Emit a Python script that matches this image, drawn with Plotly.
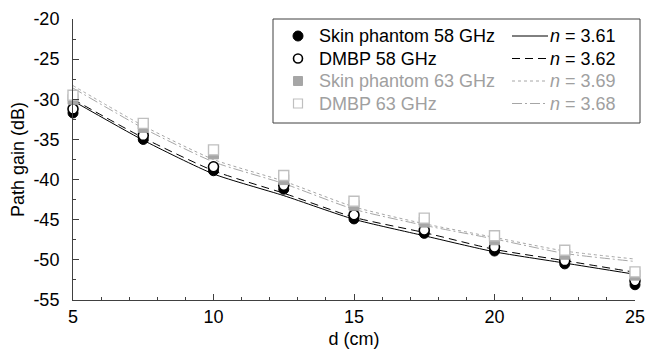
import plotly.graph_objects as go

# ---- data ----
d_cm = [5, 7.5, 10, 12.5, 15, 17.5, 20, 22.5, 25]
skin58 = [-31.7, -35.0, -38.9, -41.2, -44.9, -46.7, -48.9, -50.5, -53.1]
dmbp58 = [-31.2, -34.5, -38.4, -40.7, -44.4, -46.3, -48.4, -50.1, -52.6]
skin63 = [-30.0, -33.5, -36.8, -40.0, -43.2, -45.3, -47.5, -49.3, -51.9]
dmbp63 = [-29.5, -33.0, -36.3, -39.5, -42.7, -44.8, -47.0, -48.8, -51.5]

fit_skin58 = [-30.2, -35.1, -39.3, -42.0, -44.95, -47.0, -49.0, -50.4, -51.8]
fit_dmbp58 = [-30.0, -34.8, -38.9, -41.7, -44.7, -46.6, -48.7, -50.1, -51.55]
fit_skin63 = [-28.3, -33.3, -37.5, -40.2, -43.4, -45.5, -47.2, -48.9, -49.9]
fit_dmbp63 = [-28.6, -33.6, -37.8, -40.5, -43.7, -45.7, -47.4, -49.2, -50.2]

x_ticks = [5, 10, 15, 20, 25]
y_ticks = [-55, -50, -45, -40, -35, -30, -25, -20]
y_ticklabels = ["-55", "-50", "-45", "-40", "-35", "-30", "-25", "-20"]

legend_names = ["Skin phantom 58 GHz", "DMBP 58 GHz", "Skin phantom 63 GHz", "DMBP 63 GHz"]
n_values = ["3.61", "3.62", "3.69", "3.68"]

BLACK = "#000000"
GRAY_FILL = "#a6a6a6"
GRAY_EDGE = "#bfbfbf"
GRAY_LINE = "#a6a6a6"
GRAY_TEXT = "#a0a0a0"
FONT = "Liberation Sans, Arial, sans-serif"
FS = 18

fig = go.Figure()

# fitted lines
line_specs = [
    (fit_skin58, BLACK, "solid"),
    (fit_dmbp58, BLACK, "8px,5px"),
    (fit_skin63, GRAY_LINE, "dot"),
    (fit_dmbp63, GRAY_LINE, "10px,3px,2px,3px"),
]
for ys, col, dash in line_specs:
    fig.add_trace(go.Scatter(x=d_cm, y=ys, mode="lines", showlegend=False,
                             line=dict(color=col, width=1, dash=dash, shape="spline", smoothing=0.6),
                             hoverinfo="skip"))

# measured points
marker_specs = [
    (skin58, dict(symbol="circle", size=10, color=BLACK, line=dict(color=BLACK, width=1))),
    (dmbp58, dict(symbol="circle", size=10, color="white", line=dict(color=BLACK, width=1.6))),
    (skin63, dict(symbol="square", size=10, color=GRAY_FILL, line=dict(color=GRAY_FILL, width=1))),
    (dmbp63, dict(symbol="square", size=10, color="white", line=dict(color=GRAY_EDGE, width=1.4))),
]
for (ys, mk), name in zip(marker_specs, legend_names):
    fig.add_trace(go.Scatter(x=d_cm, y=ys, mode="markers", name=name, showlegend=False,
                             marker=mk, cliponaxis=False))

# ---- manual legend (paper coordinates) ----
L, R, T, B = 73.0, 635.0, 19.0, 300.0
def px(x):
    return (x - L) / (R - L)
def py(y):
    return (B - y) / (B - T)

shapes = []
annotations = []
shapes.append(dict(type="rect", xref="paper", yref="paper",
                   x0=px(273), x1=px(640), y0=py(123), y1=py(19),
                   line=dict(color="#404040", width=1), fillcolor="white", layer="above"))
rows = [36, 58.5, 81, 103.5]
text_cols = [BLACK, BLACK, GRAY_TEXT, GRAY_TEXT]
for i, (yy, name, nv, tc) in enumerate(zip(rows, legend_names, n_values, text_cols)):
    if i == 0:
        shapes.append(dict(type="circle", xref="paper", yref="paper", xsizemode="pixel", ysizemode="pixel",
                           xanchor=px(298), yanchor=py(yy), x0=-5, x1=5, y0=-5, y1=5,
                           fillcolor=BLACK, line=dict(color=BLACK, width=1), layer="above"))
    elif i == 1:
        shapes.append(dict(type="circle", xref="paper", yref="paper", xsizemode="pixel", ysizemode="pixel",
                           xanchor=px(298), yanchor=py(yy), x0=-4.5, x1=4.5, y0=-4.5, y1=4.5,
                           fillcolor="white", line=dict(color=BLACK, width=1.6), layer="above"))
    elif i == 2:
        shapes.append(dict(type="rect", xref="paper", yref="paper", xsizemode="pixel", ysizemode="pixel",
                           xanchor=px(298), yanchor=py(yy), x0=-4.5, x1=4.5, y0=-4.5, y1=4.5,
                           fillcolor=GRAY_FILL, line=dict(color=GRAY_FILL, width=1), layer="above"))
    else:
        shapes.append(dict(type="rect", xref="paper", yref="paper", xsizemode="pixel", ysizemode="pixel",
                           xanchor=px(298), yanchor=py(yy), x0=-4.5, x1=4.5, y0=-4.5, y1=4.5,
                           fillcolor="white", line=dict(color=GRAY_EDGE, width=1.2), layer="above"))
    annotations.append(dict(xref="paper", yref="paper", x=px(317), y=py(yy), xanchor="left", yanchor="middle",
                            text=name, showarrow=False, font=dict(family=FONT, size=FS, color=tc)))
    annotations.append(dict(xref="paper", yref="paper", x=px(548), y=py(yy), xanchor="left", yanchor="middle",
                            text="<i>n</i> = " + nv, showarrow=False, font=dict(family=FONT, size=FS, color=tc)))
    col, dash = line_specs[i][1], line_specs[i][2]
    shapes.append(dict(type="line", xref="paper", yref="paper", x0=px(512), x1=px(548), y0=py(yy), y1=py(yy),
                       line=dict(color=col, width=1, dash=dash), layer="above"))

axis_common = dict(showline=True, linecolor="#404040", linewidth=1, mirror=False,
                   ticks="inside", ticklen=6, tickcolor="#404040", tickwidth=1,
                   showgrid=False, zeroline=False, automargin=False,
                   ticklabeloverflow="allow",
                   tickfont=dict(family=FONT, size=FS, color="#000000"),
                   title_font=dict(family=FONT, size=FS, color="#000000"))

fig.update_layout(
    width=645, height=352,
    margin=dict(l=73, r=10, t=19, b=52),
    plot_bgcolor="white", paper_bgcolor="white",
    showlegend=False,
    shapes=shapes, annotations=annotations,
    xaxis=dict(range=[5, 25], tickvals=x_ticks, title=dict(text="d (cm)", standoff=6),
               minor=dict(dtick=1, ticks="inside", ticklen=3, tickcolor="#404040"), **axis_common),
    yaxis=dict(range=[-55, -20], tickvals=y_ticks, ticktext=y_ticklabels,
               title=dict(text="Path gain (dB)", standoff=4),
               minor=dict(dtick=2.5, ticks="inside", ticklen=3, tickcolor="#404040"),
               ticklabelstandoff=9, **axis_common),
)

fig.write_html("out.html")
